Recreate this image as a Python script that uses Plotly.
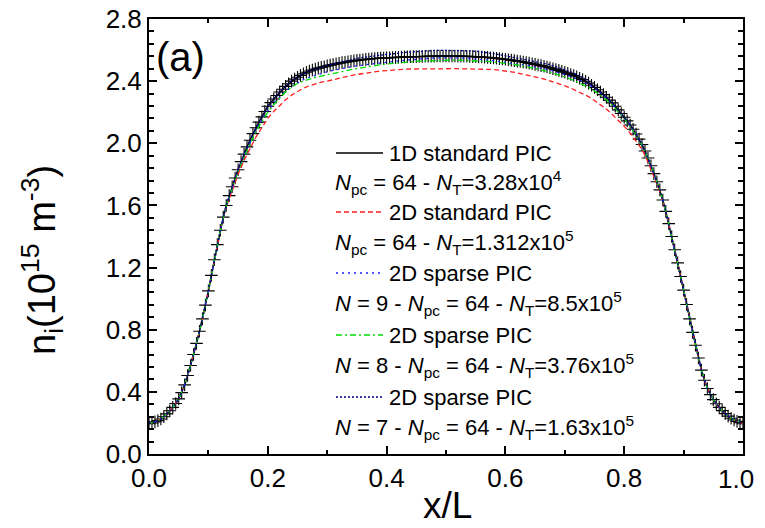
import plotly.graph_objects as go

# ---------------- data ----------------
# 1D standard PIC, sampled every 0.005 in x/L
x_1d = [i / 200 for i in range(201)]
n_1d = [
    0.195, 0.200, 0.207, 0.215, 0.225, 0.240, 0.258, 0.278, 0.300, 0.325, 0.355, 0.395, 0.445, 0.505, 0.570, 0.640, 0.712, 0.790, 0.870, 0.958,
    1.050, 1.150, 1.250, 1.348, 1.440, 1.525, 1.600, 1.663, 1.720, 1.777, 1.830, 1.882, 1.930, 1.977, 2.020, 2.062, 2.100, 2.136, 2.170, 2.205,
    2.238, 2.262, 2.285, 2.308, 2.330, 2.348, 2.366, 2.383, 2.400, 2.413, 2.425, 2.437, 2.448, 2.457, 2.465, 2.472, 2.478, 2.484, 2.489, 2.493,
    2.498, 2.503, 2.507, 2.511, 2.515, 2.519, 2.522, 2.525, 2.528, 2.531, 2.534, 2.536, 2.538, 2.540, 2.542, 2.544, 2.546, 2.547, 2.548, 2.549,
    2.550, 2.551, 2.552, 2.553, 2.554, 2.555, 2.556, 2.557, 2.557, 2.558, 2.558, 2.559, 2.559, 2.560, 2.560, 2.561, 2.561, 2.562, 2.562, 2.562,
    2.562, 2.562, 2.562, 2.562, 2.561, 2.561, 2.560, 2.560, 2.559, 2.558, 2.557, 2.556, 2.555, 2.554, 2.553, 2.551, 2.549, 2.547, 2.545, 2.543,
    2.541, 2.538, 2.535, 2.532, 2.529, 2.526, 2.523, 2.520, 2.516, 2.512, 2.508, 2.504, 2.500, 2.496, 2.491, 2.486, 2.480, 2.475, 2.469, 2.463,
    2.457, 2.450, 2.443, 2.436, 2.428, 2.419, 2.410, 2.399, 2.387, 2.374, 2.360, 2.345, 2.330, 2.313, 2.296, 2.278, 2.260, 2.238, 2.215, 2.192,
    2.168, 2.144, 2.118, 2.090, 2.060, 2.027, 1.992, 1.950, 1.905, 1.855, 1.805, 1.752, 1.700, 1.635, 1.562, 1.483, 1.400, 1.315, 1.230, 1.143,
    1.055, 0.962, 0.870, 0.783, 0.700, 0.618, 0.540, 0.475, 0.422, 0.382, 0.350, 0.323, 0.300, 0.279, 0.260, 0.244, 0.230, 0.219, 0.210, 0.202,
    0.195,
]

# 2D runs, sampled every 0.01 in x/L
x_2d = [i / 100 for i in range(101)]
n_2d_std = [
    0.195, 0.207, 0.225, 0.258, 0.300, 0.355, 0.445, 0.570, 0.712, 0.870,
    1.050, 1.250, 1.440, 1.590, 1.700, 1.800, 1.890, 1.970, 2.040, 2.100,
    2.160, 2.205, 2.245, 2.280, 2.310, 2.335, 2.355, 2.370, 2.383, 2.393,
    2.400, 2.410, 2.420, 2.428, 2.436, 2.443, 2.450, 2.455, 2.460, 2.465,
    2.469, 2.472, 2.475, 2.477, 2.478, 2.479, 2.480, 2.480, 2.480, 2.480,
    2.480, 2.480, 2.480, 2.480, 2.479, 2.478, 2.477, 2.476, 2.475, 2.471,
    2.466, 2.460, 2.453, 2.445, 2.437, 2.428, 2.418, 2.408, 2.397, 2.385,
    2.370, 2.355, 2.338, 2.320, 2.300, 2.275, 2.250, 2.220, 2.185, 2.150,
    2.110, 2.065, 2.015, 1.960, 1.880, 1.790, 1.690, 1.560, 1.400, 1.230,
    1.055, 0.870, 0.700, 0.540, 0.422, 0.350, 0.300, 0.260, 0.230, 0.210,
    0.195,
]
n_sparse_9 = [
    0.195, 0.207, 0.225, 0.258, 0.300, 0.355, 0.445, 0.570, 0.712, 0.870,
    1.050, 1.250, 1.440, 1.600, 1.720, 1.830, 1.925, 2.010, 2.085, 2.150,
    2.210, 2.260, 2.300, 2.335, 2.365, 2.390, 2.410, 2.425, 2.438, 2.450,
    2.460, 2.470, 2.478, 2.486, 2.493, 2.499, 2.504, 2.509, 2.514, 2.518,
    2.522, 2.526, 2.530, 2.534, 2.538, 2.541, 2.544, 2.547, 2.549, 2.550,
    2.551, 2.551, 2.550, 2.548, 2.546, 2.543, 2.540, 2.536, 2.532, 2.527,
    2.522, 2.517, 2.511, 2.505, 2.499, 2.492, 2.485, 2.476, 2.466, 2.455,
    2.443, 2.430, 2.415, 2.398, 2.378, 2.355, 2.325, 2.290, 2.252, 2.210,
    2.163, 2.118, 2.060, 1.992, 1.905, 1.805, 1.700, 1.562, 1.400, 1.230,
    1.055, 0.870, 0.700, 0.540, 0.422, 0.350, 0.300, 0.260, 0.230, 0.210,
    0.195,
]
n_sparse_8 = [
    0.195, 0.207, 0.225, 0.258, 0.300, 0.355, 0.445, 0.570, 0.712, 0.870,
    1.050, 1.250, 1.440, 1.600, 1.715, 1.820, 1.915, 2.000, 2.075, 2.140,
    2.200, 2.250, 2.293, 2.330, 2.362, 2.385, 2.400, 2.413, 2.424, 2.433,
    2.442, 2.450, 2.458, 2.466, 2.474, 2.481, 2.488, 2.494, 2.500, 2.505,
    2.510, 2.514, 2.518, 2.521, 2.524, 2.527, 2.529, 2.531, 2.533, 2.534,
    2.535, 2.535, 2.535, 2.534, 2.533, 2.532, 2.530, 2.527, 2.524, 2.520,
    2.515, 2.510, 2.504, 2.497, 2.490, 2.482, 2.473, 2.463, 2.452, 2.440,
    2.427, 2.413, 2.397, 2.380, 2.360, 2.337, 2.310, 2.280, 2.245, 2.205,
    2.160, 2.110, 2.055, 1.990, 1.905, 1.805, 1.700, 1.562, 1.400, 1.230,
    1.055, 0.870, 0.700, 0.540, 0.422, 0.350, 0.300, 0.260, 0.230, 0.210,
    0.195,
]
n_sparse_7 = [
    0.195, 0.207, 0.225, 0.258, 0.300, 0.355, 0.445, 0.570, 0.712, 0.870,
    1.050, 1.250, 1.440, 1.600, 1.720, 1.830, 1.930, 2.020, 2.100, 2.170,
    2.238, 2.285, 2.330, 2.366, 2.400, 2.425, 2.448, 2.465, 2.478, 2.489,
    2.500, 2.510, 2.520, 2.530, 2.540, 2.547, 2.553, 2.558, 2.564, 2.569,
    2.573, 2.577, 2.581, 2.585, 2.588, 2.591, 2.594, 2.596, 2.597, 2.598,
    2.598, 2.598, 2.598, 2.597, 2.595, 2.592, 2.588, 2.583, 2.577, 2.570,
    2.563, 2.556, 2.549, 2.542, 2.535, 2.527, 2.519, 2.510, 2.500, 2.488,
    2.475, 2.460, 2.443, 2.423, 2.400, 2.360, 2.330, 2.296, 2.260, 2.215,
    2.168, 2.118, 2.060, 1.992, 1.905, 1.805, 1.700, 1.562, 1.400, 1.230,
    1.055, 0.870, 0.700, 0.540, 0.422, 0.350, 0.300, 0.260, 0.230, 0.210,
    0.195,
]

legend_titles = ["1D standard PIC", "2D standard PIC", "2D sparse PIC", "2D sparse PIC", "2D sparse PIC"]
legend_details = [
    "<i>N</i><sub>pc</sub> = 64 - <i>N</i><sub>T</sub>=3.28x10<sup>4</sup>",
    "<i>N</i><sub>pc</sub> = 64 - <i>N</i><sub>T</sub>=1.312x10<sup>5</sup>",
    "<i>N</i> = 9 - <i>N</i><sub>pc</sub> = 64 - <i>N</i><sub>T</sub>=8.5x10<sup>5</sup>",
    "<i>N</i> = 8 - <i>N</i><sub>pc</sub> = 64 - <i>N</i><sub>T</sub>=3.76x10<sup>5</sup>",
    "<i>N</i> = 7 - <i>N</i><sub>pc</sub> = 64 - <i>N</i><sub>T</sub>=1.63x10<sup>5</sup>",
]
x_ticks = [0.0, 0.2, 0.4, 0.6, 0.8, 1.0]
y_ticks = [0.0, 0.4, 0.8, 1.2, 1.6, 2.0, 2.4, 2.8]

# ---------------- style ----------------
FONT = "Liberation Sans, Arial, sans-serif"
OFF = 8                      # page body margin in the browser
W, H = 765 - OFF, 528 - OFF
L, R, T = 149 - OFF, 22, 19 - OFF
PW, PH = W - L - R, 435
B = H - T - PH

def px_x(p):               # screen pixel -> paper coordinate
    return (p - OFF - L) / PW

def px_y(p):
    return (OFF + T + PH - p) / PH

styles = [
    dict(color="black", dash="solid", width=1.2),
    dict(color="#ff2020", dash="5px,3px", width=1.3),
    dict(color="#2020ff", dash="2px,4px", width=1.3),
    dict(color="#00dd00", dash="6px,3px,2px,3px", width=1.3),
    dict(color="#00008b", dash="2px,2px", width=1.3),
]

fig = go.Figure()
fig.add_trace(go.Scatter(
    x=x_1d, y=n_1d, mode="lines+markers",
    line=dict(color="black", width=1.5),
    marker=dict(symbol="cross-thin", size=9, line=dict(color="black", width=1.1)),
    showlegend=False,
))
for ys, st in zip([n_2d_std, n_sparse_9, n_sparse_8, n_sparse_7], styles[1:]):
    fig.add_trace(go.Scatter(x=x_2d, y=ys, mode="lines", line=st, showlegend=False))

# custom legend
row_title_px = [153, 212, 273, 335, 397]
row_detail_px = [182, 242, 303, 365, 427]
shapes = []
annotations = []
for i in range(5):
    st = styles[i]
    yp = px_y(row_title_px[i])
    shapes.append(dict(type="line", xref="paper", yref="paper",
                       x0=px_x(336), x1=px_x(383), y0=yp, y1=yp,
                       line=dict(color=st["color"], dash=st["dash"], width=1.3)))
    annotations.append(dict(xref="paper", yref="paper", x=px_x(387), y=yp,
                            xanchor="left", yanchor="middle", showarrow=False,
                            text=legend_titles[i], font=dict(size=22, color="black", family=FONT)))
    annotations.append(dict(xref="paper", yref="paper", x=px_x(333), y=px_y(row_detail_px[i]),
                            xanchor="left", yanchor="middle", showarrow=False,
                            text=legend_details[i], font=dict(size=22, color="black", family=FONT)))

annotations.append(dict(xref="paper", yref="paper", x=px_x(154), y=px_y(57),
                        xanchor="left", yanchor="middle", showarrow=False,
                        text="(a)", font=dict(size=40, color="black", family=FONT)))
# last x tick label, nudged left so it is not clipped at the page edge
annotations.append(dict(xref="paper", yref="paper", x=px_x(756), y=px_y(479),
                        xanchor="right", yanchor="middle", showarrow=False,
                        text=f"{x_ticks[-1]:.1f}", font=dict(size=26, color="black", family=FONT)))
# axis titles
annotations.append(dict(xref="paper", yref="paper", x=px_x(447), y=px_y(505),
                        xanchor="center", yanchor="middle", showarrow=False,
                        text="x/L", font=dict(size=37, color="black", family=FONT)))
annotations.append(dict(xref="paper", yref="paper", x=px_x(42), y=px_y(260),
                        xanchor="center", yanchor="middle", showarrow=False, textangle=-90,
                        text="n<sub>i</sub>(10<sup>15</sup> m<sup>-3</sup>)",
                        font=dict(size=38, color="black", family=FONT)))

axis_common = dict(
    showline=True, linecolor="black", linewidth=2, mirror="allticks",
    ticks="inside", ticklen=8, tickwidth=1.5, tickcolor="black",
    showgrid=False, zeroline=False, automargin=False, ticklabeloverflow="allow",
    tickfont=dict(size=26, color="black", family=FONT),
)

fig.update_layout(
    width=W, height=H,
    margin=dict(l=L, r=R, t=T, b=B),
    paper_bgcolor="white", plot_bgcolor="white",
    shapes=shapes, annotations=annotations,
    xaxis=dict(axis_common, range=[0, 1], tickvals=x_ticks,
               ticktext=[f"{v:.1f}" for v in x_ticks[:-1]] + [""],
               minor=dict(dtick=0.1, tick0=0, ticks="inside", ticklen=4, tickwidth=1.5, tickcolor="black")),
    yaxis=dict(axis_common, range=[0, 2.8], tickvals=y_ticks, ticktext=[f"{v:.1f}" for v in y_ticks],
               minor=dict(dtick=0.08, tick0=0, ticks="inside", ticklen=5, tickwidth=1.5, tickcolor="black")),
    font=dict(family=FONT, color="black"),
)

fig.write_html("out.html")
